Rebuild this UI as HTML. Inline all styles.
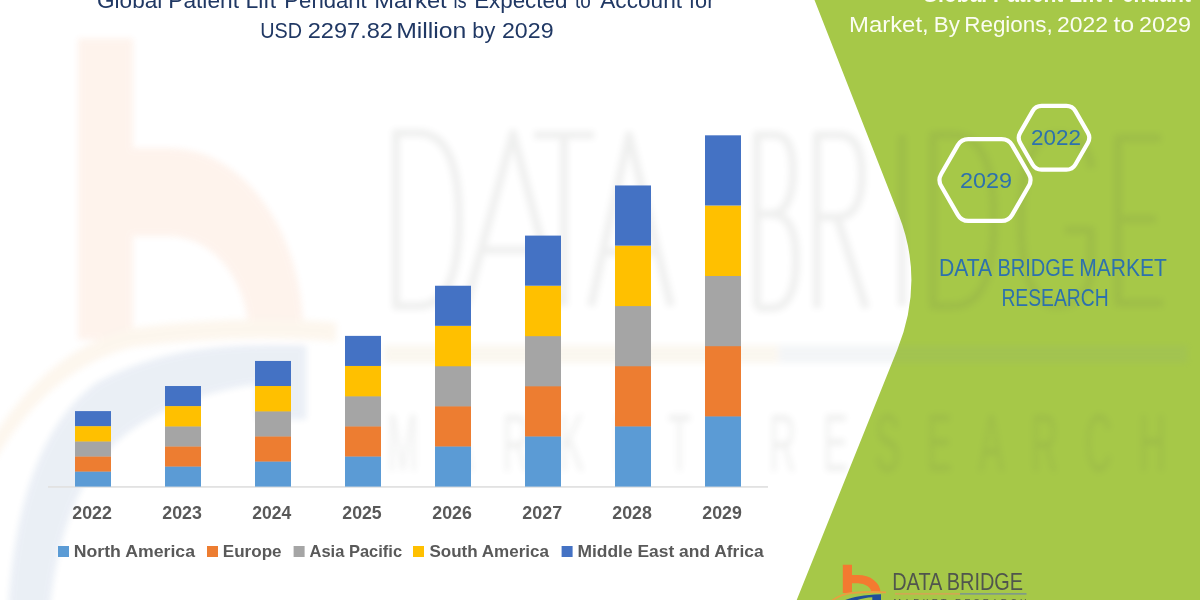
<!DOCTYPE html>
<html><head><meta charset="utf-8">
<style>
html,body{margin:0;padding:0;background:#fff;}
body{width:1200px;height:600px;overflow:hidden;position:relative;font-family:"Liberation Sans",sans-serif;}
svg{position:absolute;left:0;top:0;display:block;}
</style></head>
<body>
<svg style="opacity:0.999" width="1200" height="600" viewBox="0 0 1200 600" font-family="Liberation Sans, sans-serif">
<defs>
<filter id="wmblur" x="-5%" y="-5%" width="110%" height="110%"><feGaussianBlur stdDeviation="3"/></filter>
<g id="logoart">
<path d="M831,622 C831,610 836,601 846,597 C856,594 866,593.3 881,593.5 L881,600.5 L872.5,600.5 L872.5,597.2 C862,598 851,600.5 845.5,605 C841.5,608.5 838.5,613 837.5,622 Z" fill="#1f4e9a"/>
<path d="M842.8,564.7 H852 V575 H858 A22.5,17.5 0 0 1 880.5,592.5 H871.3 A13.3,9.2 0 0 0 858,583.3 H852 V593 H842.8 Z" fill="#f47a30"/>
<path d="M826,606 Q836,595 852,592.8 Q870,591.5 886,592.3" stroke="#e8a040" stroke-width="1.8" fill="none"/>
<rect x="894" y="593.5" width="66" height="1.7" fill="#d0a852"/>
<rect x="960" y="593.5" width="68.4" height="1.7" fill="#7f98a8"/>
</g>
<g id="logosmall">
<path d="M843,601 C850,597.5 862,595 881,594.2 L881,601 L872.3,601 L872.3,597.2 C866,597.6 860,598.6 855,601 Z" fill="#1f4e9a"/>
<path d="M842.8,564.7 H852 V575 H858 A22.5,17.5 0 0 1 880.5,592.5 H871.3 A13.3,9.2 0 0 0 858,583.3 H852 V593 H842.8 Z" fill="#f47a30"/>
<path d="M826,606 Q836,595 852,592.8 Q870,591.5 886,592.3" stroke="#e8a040" stroke-width="1.8" fill="none"/>
<rect x="895" y="593" width="65" height="1.7" fill="#d0a852"/>
<rect x="960" y="593" width="66.5" height="1.7" fill="#7f9a88"/>
</g>
</defs>
<rect width="1200" height="600" fill="#fff"/>

<!-- green panel -->
<path d="M814.5,0 L898.8,215 Q924.8,281.4 897.2,350 L796.7,600 L1200,600 L1200,0 Z" fill="#a6c848"/>

<!-- watermark -->
<g opacity="0.085" filter="url(#wmblur)">
<use href="#logoart" transform="matrix(5.98,0,0,10.65,-4962,-5975.8)"/>
<path d="M396,133 H418 C450,133 459,172 459,219 C459,266 450,306 418,306 H396 Z M466,306 L513,133 L558,306 M481,250 H544 M534,135 H594 M564,135 V306 M591,306 L629,135 L671,306 M601,252 H660 M757,308 V135 H775 C789,135 793,151 793,172 C793,197 785,214 771,214 H757 M771,214 C790,214 796,233 796,261 C796,292 787,308 771,308 H757 M817,308 V135 H839 C857,135 862,153 862,175 C862,201 854,217 837,217 H817 M837,217 L866,308 M902,135 V306 M933,135 H953 C985,135 994,173 994,220 C994,267 985,306 953,306 H933 Z M1092,168 C1088,145 1077,135 1057,135 C1031,135 1021,172 1021,220 C1021,268 1031,306 1057,306 C1077,306 1091,292 1091,268 V230 H1065 M1161,138 H1118 V303 H1163 M1118,219 H1156" fill="none" stroke="#50554d" stroke-width="8" stroke-linejoin="round"/>
<text x="0" y="0" font-size="82" textLength="660.9" lengthAdjust="spacing" fill="#50554d" transform="translate(387,471) scale(0.46,1)">MARKET</text>
<text x="0" y="0" font-size="82" textLength="863" lengthAdjust="spacing" fill="#50554d" transform="translate(769,471) scale(0.46,1)">RESEARCH</text>
</g>

<!-- title -->
<text x="97.02" y="8.3" font-size="22.4" font-weight="normal" fill="#203864" textLength="65.31" lengthAdjust="spacingAndGlyphs">Global</text>
<text x="168.23" y="8.3" font-size="22.4" font-weight="normal" fill="#203864" textLength="70.82" lengthAdjust="spacingAndGlyphs">Patient</text>
<text x="245.46" y="8.3" font-size="22.4" font-weight="normal" fill="#203864" textLength="30.70" lengthAdjust="spacingAndGlyphs">Lift</text>
<text x="284.35" y="8.3" font-size="22.4" font-weight="normal" fill="#203864" textLength="82.35" lengthAdjust="spacingAndGlyphs">Pendant</text>
<text x="374.19" y="8.3" font-size="22.4" font-weight="normal" fill="#203864" textLength="72.51" lengthAdjust="spacingAndGlyphs">Market</text>
<text x="453.52" y="8.3" font-size="22.4" font-weight="normal" fill="#203864" textLength="13.14" lengthAdjust="spacingAndGlyphs">is</text>
<text x="474.13" y="8.3" font-size="22.4" font-weight="normal" fill="#203864" textLength="93.26" lengthAdjust="spacingAndGlyphs">Expected</text>
<text x="574.98" y="8.3" font-size="22.4" font-weight="normal" fill="#203864" textLength="15.81" lengthAdjust="spacingAndGlyphs">to</text>
<text x="600.29" y="8.3" font-size="22.4" font-weight="normal" fill="#203864" textLength="81.71" lengthAdjust="spacingAndGlyphs">Account</text>
<text x="689.05" y="8.3" font-size="22.4" font-weight="normal" fill="#203864" textLength="25.33" lengthAdjust="spacingAndGlyphs">for</text>
<text x="260.24" y="38.3" font-size="22.4" font-weight="normal" fill="#203864" textLength="41.81" lengthAdjust="spacingAndGlyphs">USD</text>
<text x="307.72" y="38.3" font-size="22.4" font-weight="normal" fill="#203864" textLength="85.26" lengthAdjust="spacingAndGlyphs">2297.82</text>
<text x="396.19" y="38.3" font-size="22.4" font-weight="normal" fill="#203864" textLength="70.21" lengthAdjust="spacingAndGlyphs">Million</text>
<text x="472.33" y="38.3" font-size="22.4" font-weight="normal" fill="#203864" textLength="22.90" lengthAdjust="spacingAndGlyphs">by</text>
<text x="501.97" y="38.3" font-size="22.4" font-weight="normal" fill="#203864" textLength="51.56" lengthAdjust="spacingAndGlyphs">2029</text>

<!-- axis -->
<rect x="48" y="486" width="720" height="1.8" fill="#e2e2e2"/>

<!-- bars -->
<rect x="75" y="471.26" width="36" height="15.34" fill="#5b9bd5"/>
<rect x="75" y="456.22" width="36" height="15.34" fill="#ed7d31"/>
<rect x="75" y="441.17" width="36" height="15.34" fill="#a5a5a5"/>
<rect x="75" y="426.13" width="36" height="15.34" fill="#ffc000"/>
<rect x="75" y="411.09" width="36" height="15.04" fill="#4472c4"/>
<rect x="165" y="466.24" width="36" height="20.36" fill="#5b9bd5"/>
<rect x="165" y="446.19" width="36" height="20.36" fill="#ed7d31"/>
<rect x="165" y="426.13" width="36" height="20.36" fill="#a5a5a5"/>
<rect x="165" y="406.08" width="36" height="20.36" fill="#ffc000"/>
<rect x="165" y="386.02" width="36" height="20.06" fill="#4472c4"/>
<rect x="255" y="461.23" width="36" height="25.37" fill="#5b9bd5"/>
<rect x="255" y="436.16" width="36" height="25.37" fill="#ed7d31"/>
<rect x="255" y="411.09" width="36" height="25.37" fill="#a5a5a5"/>
<rect x="255" y="386.02" width="36" height="25.37" fill="#ffc000"/>
<rect x="255" y="360.95" width="36" height="25.07" fill="#4472c4"/>
<rect x="345" y="456.22" width="36" height="30.38" fill="#5b9bd5"/>
<rect x="345" y="426.13" width="36" height="30.38" fill="#ed7d31"/>
<rect x="345" y="396.05" width="36" height="30.38" fill="#a5a5a5"/>
<rect x="345" y="365.96" width="36" height="30.38" fill="#ffc000"/>
<rect x="345" y="335.88" width="36" height="30.08" fill="#4472c4"/>
<rect x="435" y="446.19" width="36" height="40.41" fill="#5b9bd5"/>
<rect x="435" y="406.08" width="36" height="40.41" fill="#ed7d31"/>
<rect x="435" y="365.96" width="36" height="40.41" fill="#a5a5a5"/>
<rect x="435" y="325.85" width="36" height="40.41" fill="#ffc000"/>
<rect x="435" y="285.74" width="36" height="40.11" fill="#4472c4"/>
<rect x="525" y="436.16" width="36" height="50.44" fill="#5b9bd5"/>
<rect x="525" y="386.02" width="36" height="50.44" fill="#ed7d31"/>
<rect x="525" y="335.88" width="36" height="50.44" fill="#a5a5a5"/>
<rect x="525" y="285.74" width="36" height="50.44" fill="#ffc000"/>
<rect x="525" y="235.60" width="36" height="50.14" fill="#4472c4"/>
<rect x="615" y="426.13" width="36" height="60.47" fill="#5b9bd5"/>
<rect x="615" y="365.96" width="36" height="60.47" fill="#ed7d31"/>
<rect x="615" y="305.80" width="36" height="60.47" fill="#a5a5a5"/>
<rect x="615" y="245.63" width="36" height="60.47" fill="#ffc000"/>
<rect x="615" y="185.46" width="36" height="60.17" fill="#4472c4"/>
<rect x="705" y="416.10" width="36" height="70.50" fill="#5b9bd5"/>
<rect x="705" y="345.91" width="36" height="70.50" fill="#ed7d31"/>
<rect x="705" y="275.71" width="36" height="70.50" fill="#a5a5a5"/>
<rect x="705" y="205.52" width="36" height="70.50" fill="#ffc000"/>
<rect x="705" y="135.32" width="36" height="70.20" fill="#4472c4"/>

<!-- x labels -->
<text x="72.31" y="518.7" font-size="17.5" font-weight="bold" fill="#595959" textLength="39.59" lengthAdjust="spacingAndGlyphs">2022</text>
<text x="162.31" y="518.7" font-size="17.5" font-weight="bold" fill="#595959" textLength="39.59" lengthAdjust="spacingAndGlyphs">2023</text>
<text x="252.32" y="518.7" font-size="17.5" font-weight="bold" fill="#595959" textLength="38.98" lengthAdjust="spacingAndGlyphs">2024</text>
<text x="342.31" y="518.7" font-size="17.5" font-weight="bold" fill="#595959" textLength="39.38" lengthAdjust="spacingAndGlyphs">2025</text>
<text x="432.31" y="518.7" font-size="17.5" font-weight="bold" fill="#595959" textLength="39.59" lengthAdjust="spacingAndGlyphs">2026</text>
<text x="522.30" y="518.7" font-size="17.5" font-weight="bold" fill="#595959" textLength="39.79" lengthAdjust="spacingAndGlyphs">2027</text>
<text x="612.31" y="518.7" font-size="17.5" font-weight="bold" fill="#595959" textLength="39.59" lengthAdjust="spacingAndGlyphs">2028</text>
<text x="702.31" y="518.7" font-size="17.5" font-weight="bold" fill="#595959" textLength="39.59" lengthAdjust="spacingAndGlyphs">2029</text>

<!-- legend -->
<rect x="58" y="546" width="11" height="11" fill="#5b9bd5"/>
<rect x="207" y="546" width="11" height="11" fill="#ed7d31"/>
<rect x="293.6" y="546" width="11" height="11" fill="#a5a5a5"/>
<rect x="413" y="546" width="11" height="11" fill="#ffc000"/>
<rect x="561.6" y="546" width="11" height="11" fill="#4472c4"/>
<text x="73.79" y="556.6" font-size="16.5" font-weight="bold" fill="#595959" textLength="121.21" lengthAdjust="spacingAndGlyphs">North America</text>
<text x="222.82" y="556.6" font-size="16.5" font-weight="bold" fill="#595959" textLength="58.76" lengthAdjust="spacingAndGlyphs">Europe</text>
<text x="309.54" y="556.6" font-size="16.5" font-weight="bold" fill="#595959" textLength="92.53" lengthAdjust="spacingAndGlyphs">Asia Pacific</text>
<text x="429.40" y="556.6" font-size="16.5" font-weight="bold" fill="#595959" textLength="119.60" lengthAdjust="spacingAndGlyphs">South America</text>
<text x="577.47" y="556.6" font-size="16.5" font-weight="bold" fill="#595959" textLength="186.13" lengthAdjust="spacingAndGlyphs">Middle East and Africa</text>

<!-- right panel title -->
<text x="921.65" y="2" font-size="23" font-weight="bold" fill="#fbfdf2" textLength="269.35" lengthAdjust="spacingAndGlyphs">Global Patient Lift Pendant</text>
<text x="849.01" y="32" font-size="21.6" font-weight="normal" fill="#fbfdf2" textLength="79.68" lengthAdjust="spacingAndGlyphs">Market,</text>
<text x="933.87" y="32" font-size="21.6" font-weight="normal" fill="#fbfdf2" textLength="26.09" lengthAdjust="spacingAndGlyphs">By</text>
<text x="964.23" y="32" font-size="21.6" font-weight="normal" fill="#fbfdf2" textLength="88.54" lengthAdjust="spacingAndGlyphs">Regions,</text>
<text x="1056.98" y="32" font-size="21.6" font-weight="normal" fill="#fbfdf2" textLength="51.04" lengthAdjust="spacingAndGlyphs">2022</text>
<text x="1113.59" y="32" font-size="21.6" font-weight="normal" fill="#fbfdf2" textLength="20.43" lengthAdjust="spacingAndGlyphs">to</text>
<text x="1138.96" y="32" font-size="21.6" font-weight="normal" fill="#fbfdf2" textLength="52.08" lengthAdjust="spacingAndGlyphs">2029</text>

<!-- hexagons -->
<g fill="none" stroke="#fff" stroke-width="4.2" stroke-linejoin="round">
<path d="M1028.80,173.94 Q1032.30,180.00 1028.80,186.06 L1012.15,214.90 Q1008.65,220.96 1001.65,220.96 L968.35,220.96 Q961.35,220.96 957.85,214.90 L941.20,186.06 Q937.70,180.00 941.20,173.94 L957.85,145.10 Q961.35,139.04 968.35,139.04 L1001.65,139.04 Q1008.65,139.04 1012.15,145.10 Z"/>
<path d="M1087.80,132.60 Q1090.80,137.80 1087.80,143.00 L1075.40,164.47 Q1072.40,169.67 1066.40,169.67 L1041.60,169.67 Q1035.60,169.67 1032.60,164.47 L1020.20,143.00 Q1017.20,137.80 1020.20,132.60 L1032.60,111.13 Q1035.60,105.93 1041.60,105.93 L1066.40,105.93 Q1072.40,105.93 1075.40,111.13 Z"/>
</g>
<text x="959.96" y="188" font-size="22" font-weight="normal" fill="#2d71ad" textLength="52.08" lengthAdjust="spacingAndGlyphs">2029</text>
<text x="1031.00" y="145" font-size="22" font-weight="normal" fill="#2d71ad" textLength="50.00" lengthAdjust="spacingAndGlyphs">2022</text>
<text x="938.90" y="275.5" font-size="23" font-weight="normal" fill="#2d71ad" textLength="53.37" lengthAdjust="spacingAndGlyphs">DATA</text>
<text x="997.46" y="275.5" font-size="23" font-weight="normal" fill="#2d71ad" textLength="76.80" lengthAdjust="spacingAndGlyphs">BRIDGE</text>
<text x="1079.25" y="275.5" font-size="23" font-weight="normal" fill="#2d71ad" textLength="87.69" lengthAdjust="spacingAndGlyphs">MARKET</text>
<text x="1001.39" y="305.8" font-size="23" font-weight="normal" fill="#2d71ad" textLength="107.22" lengthAdjust="spacingAndGlyphs">RESEARCH</text>

<!-- bottom logo -->
<use href="#logosmall"/>
<text x="892.19" y="590" font-size="24.5" font-weight="normal" fill="#50554d" textLength="130.96" lengthAdjust="spacingAndGlyphs">DATA BRIDGE</text>
<text x="893.5" y="605" font-size="9" textLength="133" lengthAdjust="spacing" fill="#50554d">MARKET RESEARCH</text>
</svg>
</body></html>
